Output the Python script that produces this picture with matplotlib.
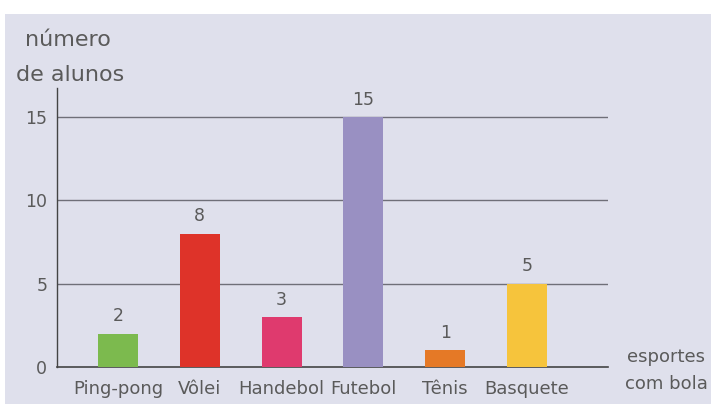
import matplotlib
matplotlib.use("Agg")
import matplotlib.pyplot as plt
from matplotlib.patches import Rectangle
from matplotlib import font_manager

categories = ["Ping-pong", "Vôlei", "Handebol", "Futebol", "Tênis", "Basquete"]
values = [2, 8, 3, 15, 1, 5]
colors = ["#7cba4e", "#de3329", "#df3a6e", "#9990c2", "#e57926", "#f6c43c"]
yticks = [0, 5, 10, 15]

names = {f.name for f in font_manager.fontManager.ttflist}
fam = "Liberation Sans Narrow" if "Liberation Sans Narrow" in names else "DejaVu Sans"
plt.rcParams["font.family"] = [fam, "DejaVu Sans"]

txt = "#5a5a5a"
W, H = 711, 404
fig = plt.figure(figsize=(W / 100, H / 100), dpi=100)
fig.patch.set_facecolor("white")
bg = "#dfe0ec"
fig.add_artist(Rectangle((5 / W, 0), 1, 1 - 14 / H, transform=fig.transFigure,
                         facecolor=bg, edgecolor="none", zorder=-10))

ax = fig.add_axes([57 / W, (H - 367) / H, (608 - 57) / W, (367 - 88) / H])
ax.set_facecolor("none")
x = list(range(len(categories)))
ax.bar(x, values, width=0.49, color=colors, zorder=3)
for xi, v in zip(x, values):
    ax.text(xi, v + 0.5, str(v), ha="center", va="bottom", fontsize=12.5, color=txt)

ax.set_xlim(-0.746, 5.99)
ax.set_ylim(0, 16.74)
ax.set_yticks(yticks)
ax.set_yticklabels([str(t) for t in yticks], fontsize=12.5, color=txt)
ax.set_xticks(x)
ax.set_xticklabels(categories, fontsize=13, color=txt)
ax.tick_params(axis="x", length=0, pad=9)
ax.tick_params(axis="y", length=0, pad=7)
for t in yticks[1:]:
    ax.axhline(t, color="#6f6f78", linewidth=1.0, zorder=1)
for s in ["top", "right"]:
    ax.spines[s].set_visible(False)
ax.spines["left"].set_color("#444444")
ax.spines["bottom"].set_color("#444444")
ax.spines["left"].set_linewidth(1.0)
ax.spines["bottom"].set_linewidth(1.2)

fig.text(25 / W, 1 - 46 / H, "número", ha="left", va="baseline",
         fontsize=16, color=txt)
fig.text(16 / W, 1 - 81 / H, "de alunos", ha="left", va="baseline",
         fontsize=16, color=txt)
fig.text(666 / W, 1 - 362 / H, "esportes", ha="center", va="baseline",
         fontsize=13, color=txt)
fig.text(666 / W, 1 - 389 / H, "com bola", ha="center", va="baseline",
         fontsize=13, color=txt)

fig.savefig("out.png", dpi=100)
